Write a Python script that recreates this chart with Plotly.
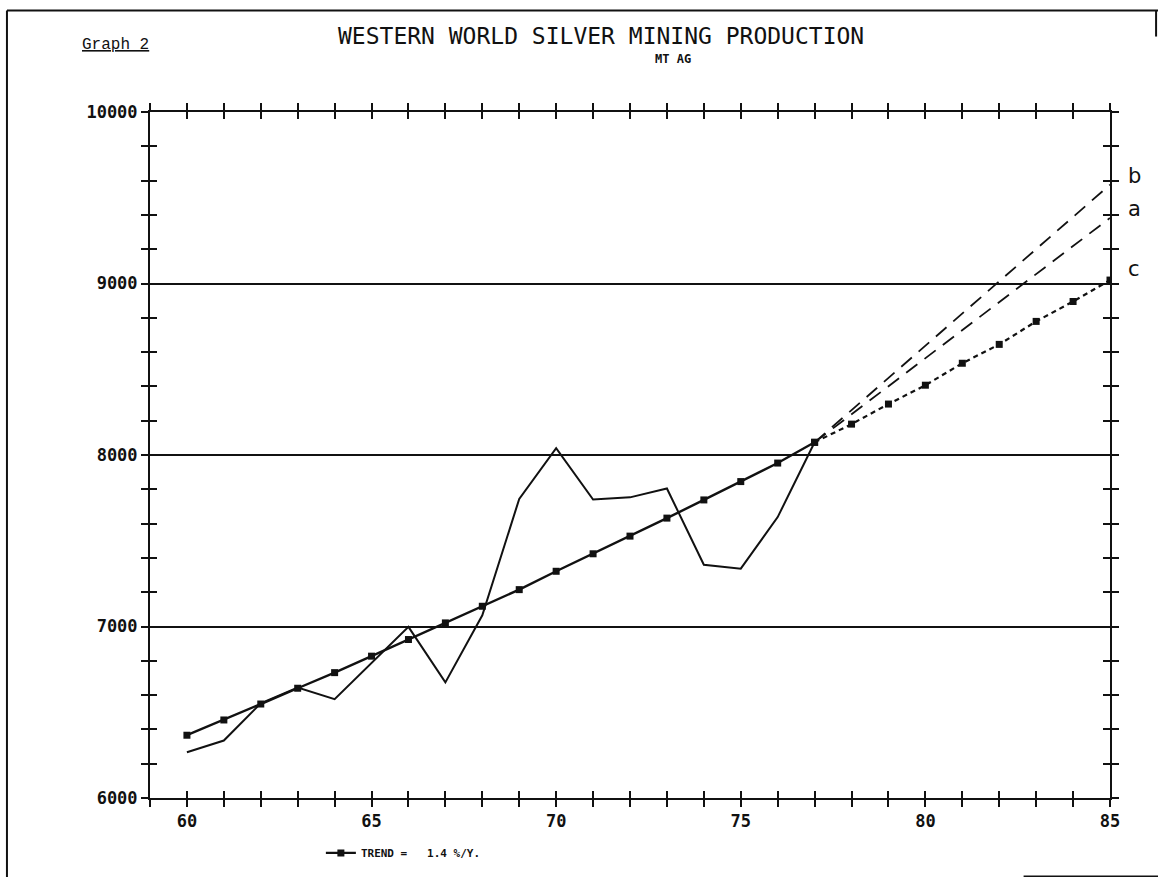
import plotly.graph_objects as go

# Western world silver mine production, MT Ag
years_actual = list(range(60, 78))
production = [6267, 6335, 6552, 6644, 6576, 6790, 6998, 6674, 7065, 7744,
              8040, 7740, 7753, 7805, 7360, 7337, 7638, 8074]

# Exponential trend, 1.4 % per year
years_trend = list(range(60, 86))
trend = [6366, 6455, 6548, 6640, 6731, 6827, 6924, 7021, 7118, 7215,
         7322, 7424, 7527, 7632, 7738, 7845, 7953, 8074, 8180, 8297,
         8407, 8535, 8645, 8779, 8895, 9020]

# Alternative projections from 1977
proj_years = [77, 85]
proj_a = [8074, 9382]
proj_b = [8074, 9576]

x_ticks = list(range(59, 86))
x_labels = [str(v) if v % 5 == 0 else "" for v in x_ticks]
y_ticks = list(range(6000, 10001, 200))
y_labels = [str(v) if v % 1000 == 0 else "" for v in y_ticks]
grid_levels = [7000, 8000, 9000]

INK = "#111111"
split = years_trend.index(77)

fig = go.Figure()

fig.add_trace(go.Scatter(
    x=years_actual, y=production, mode="lines",
    line=dict(color=INK, width=2), showlegend=False))

fig.add_trace(go.Scatter(
    x=proj_years, y=proj_b, mode="lines",
    line=dict(color=INK, width=1.8, dash="14px,9px"), showlegend=False))
fig.add_trace(go.Scatter(
    x=proj_years, y=proj_a, mode="lines",
    line=dict(color=INK, width=1.8, dash="14px,9px"), showlegend=False))

fig.add_trace(go.Scatter(
    x=years_trend[:split + 1], y=trend[:split + 1], mode="lines+markers",
    line=dict(color=INK, width=2.4),
    marker=dict(symbol="square", size=7, color=INK),
    name="TREND\u00a0=\u00a0\u00a0\u00a01.4\u00a0%/Y."))
fig.add_trace(go.Scatter(
    x=years_trend[split:], y=trend[split:], mode="lines+markers",
    line=dict(color=INK, width=2.2, dash="5px,4px"),
    marker=dict(symbol="square", size=7, color=INK), showlegend=False))

# helper traces so the overlay axes are drawn
fig.add_trace(go.Scatter(x=[59], y=[6000], xaxis="x2", yaxis="y2",
                         mode="markers", marker=dict(opacity=0),
                         showlegend=False, hoverinfo="skip"))
fig.add_trace(go.Scatter(x=[59], y=[6000], xaxis="x", yaxis="y3",
                         mode="markers", marker=dict(opacity=0),
                         showlegend=False, hoverinfo="skip"))

tick_font = dict(family="DejaVu Sans Mono", size=17, color=INK,
                 weight="bold")

fig.update_layout(
    width=1158, height=879,
    margin=dict(l=150, r=48, t=112, b=79),
    paper_bgcolor="white", plot_bgcolor="white",
    xaxis=dict(range=[59, 85], tickmode="array", tickvals=x_ticks,
               ticktext=x_labels, ticks="outside", ticklen=7, tickwidth=2,
               tickcolor=INK, showline=True, linewidth=2, linecolor=INK,
               mirror="ticks", showgrid=False, zeroline=False,
               tickfont=tick_font),
    yaxis=dict(range=[6000, 10000], tickmode="array", tickvals=y_ticks,
               ticktext=y_labels, ticks="outside", ticklen=7, tickwidth=2,
               tickcolor=INK, showline=True, linewidth=2, linecolor=INK,
               mirror="ticks", showgrid=False, zeroline=False,
               tickfont=tick_font),
    xaxis2=dict(range=[59, 85], overlaying="x", tickmode="array",
                tickvals=x_ticks, showticklabels=False, ticks="inside",
                ticklen=7, tickwidth=2, tickcolor=INK, mirror="ticks",
                showline=False, showgrid=False, zeroline=False),
    yaxis2=dict(range=[6000, 10000], overlaying="y", tickmode="array",
                tickvals=y_ticks, showticklabels=False, ticks="inside",
                ticklen=7, tickwidth=2, tickcolor=INK, mirror="ticks",
                showline=False, showgrid=False, zeroline=False),
    yaxis3=dict(range=[6000, 10000], overlaying="y", tickmode="array",
                tickvals=grid_levels, showticklabels=False, ticks="",
                showgrid=True, gridcolor=INK, gridwidth=1.6,
                showline=False, zeroline=False),
    showlegend=True,
    legend=dict(orientation="h", x=0.178, xanchor="left", y=-0.08,
                yanchor="middle", bgcolor="rgba(0,0,0,0)",
                font=dict(family="DejaVu Sans Mono", size=11, color=INK,
                          weight="bold")),
)

# Titles and labels
fig.add_annotation(text="WESTERN WORLD SILVER MINING PRODUCTION",
                   xref="paper", yref="paper", x=0.47, y=1.1105,
                   showarrow=False, xanchor="center", yanchor="middle",
                   font=dict(family="DejaVu Sans Mono", size=23, color=INK))
fig.add_annotation(text="MT AG", xref="paper", yref="paper", x=0.545,
                   y=1.077, showarrow=False, xanchor="center",
                   yanchor="middle",
                   font=dict(family="DejaVu Sans Mono", size=12, color=INK,
                             weight="bold"))
fig.add_annotation(text="<u>Graph 2</u>", xref="paper", yref="paper",
                   x=-0.036, y=1.098, showarrow=False, xanchor="center",
                   yanchor="middle",
                   font=dict(family="Liberation Mono", size=16, color=INK))

for lbl, yv in (("b", proj_b[-1]), ("a", proj_a[-1]), ("c", trend[-1])):
    fig.add_annotation(text=lbl, x=85, y=yv, xref="x", yref="y",
                       showarrow=False, xanchor="left", yanchor="middle",
                       xshift=16, yshift=9 if lbl != "c" else 11,
                       font=dict(family="DejaVu Sans", size=21, color=INK))

# Page frame
frame = dict(color=INK, width=2)
fig.add_shape(type="line", xref="paper", yref="paper",
              x0=-0.149, x1=1.05, y0=1.148, y1=1.148, line=frame)
fig.add_shape(type="line", xref="paper", yref="paper",
              x0=-0.149, x1=-0.149, y0=1.148, y1=-0.115, line=frame)
fig.add_shape(type="line", xref="paper", yref="paper",
              x0=1.048, x1=1.048, y0=1.148, y1=1.11, line=frame)
fig.add_shape(type="line", xref="paper", yref="paper",
              x0=0.91, x1=1.05, y0=-0.114, y1=-0.114,
              line=dict(color=INK, width=1.5))

fig.write_html("out.html")
